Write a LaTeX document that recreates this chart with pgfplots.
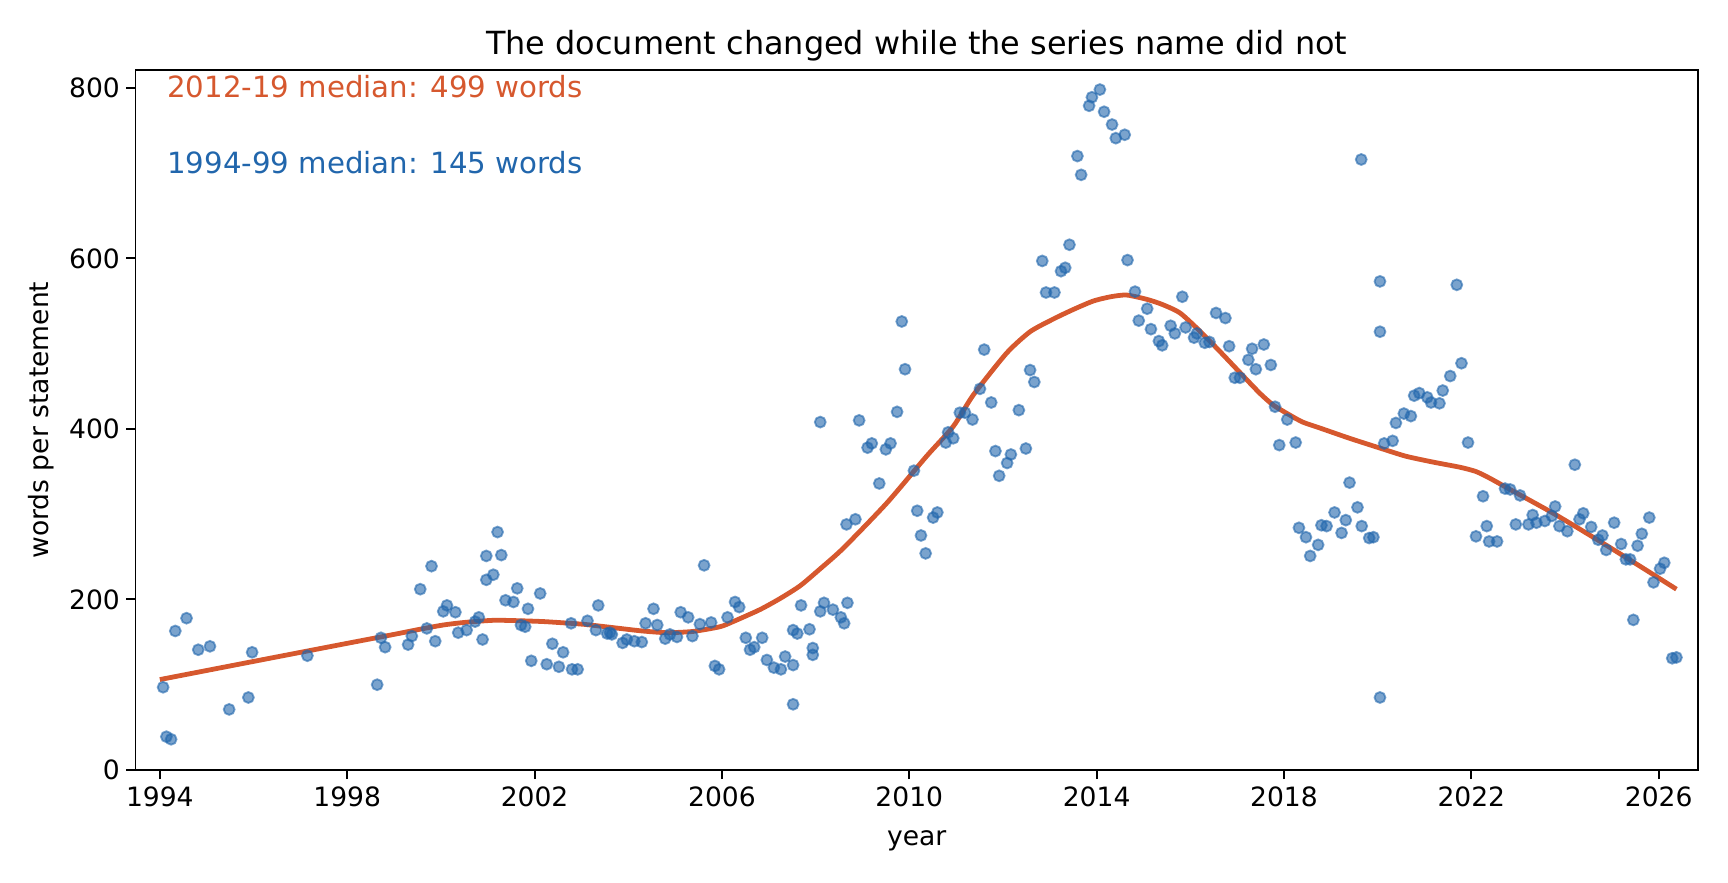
\documentclass[border=0pt]{standalone}
\usepackage{fontspec}
\setmainfont{DejaVu Sans}
\usepackage{pgfplots}
\pgfplotsset{compat=1.18}
\definecolor{ptblue}{RGB}{33,102,172}
\definecolor{lineor}{RGB}{214,88,46}
\begin{document}
\begin{tikzpicture}
\path[use as bounding box] (-51pt,-42.5pt) rectangle (599.4pt,289.8pt);
\begin{axis}[
  at={(0,0)}, anchor=south west,
  scale only axis, width=588.1pt, height=263.3pt,
  xmin=1993.48, xmax=2026.84, ymin=0, ymax=820.5,
  xtick={1994,1998,...,2026}, ytick={0,200,...,800},
  /pgf/number format/assume math mode=true,
  x tick label style={/pgf/number format/1000 sep={}},
  tick align=outside, tick pos=left,
  major tick length=3.5pt,
  axis line style={line width=0.75pt},
  major tick style={line width=0.75pt, black},
  xticklabel style={anchor=base, inner sep=0pt, yshift=-10.1pt, font=\fontsize{10}{12}\selectfont},
  yticklabel style={anchor=east, inner sep=0pt, xshift=-2.2pt, font=\fontsize{10}{12}\selectfont},
  clip=true,
]
\addplot[lineor, line width=1.8pt, no markers, smooth, tension=0.4] coordinates {
(1994.0,106) (1996.0,127.3) (1998.0,148.5) (1999.0,159) (1999.55,165) (2000.05,170)
(2000.5,173) (2001.12,175.5) (2001.69,175) (2002.2,174) (2002.76,172) (2003.11,170.5)
(2003.82,166) (2004.3,163) (2004.82,161) (2005.39,162.5) (2005.96,168) (2006.24,174)
(2006.81,188) (2007.24,201) (2007.67,216) (2008.1,236) (2008.59,260) (2009.52,313)
(2010.37,368) (2010.94,403) (2011.37,440) (2012.08,489) (2012.58,514) (2013.08,529)
(2013.5,540) (2013.93,550) (2014.3,555) (2014.64,557) (2015.07,552) (2015.4,546)
(2015.78,536) (2016.2,515) (2016.63,491) (2017.2,458) (2017.5,441) (2017.77,428)
(2018.1,417) (2018.4,408) (2018.77,401) (2019.4,389) (2020.05,377.5) (2020.6,368)
(2021.19,361) (2021.76,355) (2022.1,350) (2022.4,342) (2022.76,331) (2023.75,301)
(2024.75,268) (2025.6,239) (2026.38,212)
};
\addplot[only marks, mark=*, mark size=2.05pt,
  mark options={draw=ptblue, fill=ptblue, fill opacity=0.6, draw opacity=0.6, line width=0.7pt}]
  coordinates {
(1994.07,97) (1994.14,39) (1994.24,36) (1994.33,163) (1994.57,178) (1994.82,141)
(1995.07,145) (1995.48,71) (1995.89,85) (1995.97,138) (1997.15,134) (1998.64,100)
(1998.72,155) (1998.81,144) (1999.30,147) (1999.38,157) (1999.56,212) (1999.70,166)
(1999.80,239) (1999.88,151) (2000.05,186) (2000.13,193) (2000.31,185) (2000.37,161)
(2000.55,164) (2000.73,174) (2000.81,179) (2000.89,153) (2000.97,223) (2000.97,251)
(2001.12,229) (2001.21,279) (2001.29,252) (2001.38,199) (2001.55,197) (2001.63,213)
(2001.71,170) (2001.80,168) (2001.86,189) (2001.93,128) (2002.12,207) (2002.26,124)
(2002.38,148) (2002.52,121) (2002.61,138) (2002.78,172) (2002.80,118) (2002.92,118)
(2003.13,175) (2003.31,164) (2003.36,193) (2003.55,160) (2003.61,161) (2003.65,159)
(2003.88,149) (2003.97,153) (2004.13,151) (2004.29,150) (2004.37,172) (2004.54,189)
(2004.62,170) (2004.79,154) (2004.89,159) (2005.04,156) (2005.12,185) (2005.28,179)
(2005.37,157) (2005.53,171) (2005.62,240) (2005.77,173) (2005.85,122) (2005.94,118)
(2006.12,179) (2006.28,197) (2006.37,191) (2006.51,155) (2006.60,141) (2006.69,144)
(2006.86,155) (2006.96,129) (2007.11,120) (2007.26,118) (2007.35,133) (2007.52,123)
(2007.52,77) (2007.52,164) (2007.61,160) (2007.69,193) (2007.87,165) (2007.94,143)
(2007.94,135) (2008.10,408) (2008.10,186) (2008.18,196) (2008.37,188) (2008.54,179)
(2008.61,172) (2008.68,196) (2008.66,288) (2008.85,294) (2008.93,410) (2009.11,378)
(2009.20,383) (2009.36,336) (2009.50,376) (2009.60,383) (2009.74,420) (2009.84,526)
(2009.91,470) (2010.10,351) (2010.17,304) (2010.25,275) (2010.35,254) (2010.51,296)
(2010.60,302) (2010.78,384) (2010.83,396) (2010.94,389) (2011.08,419) (2011.19,419)
(2011.35,411) (2011.51,447) (2011.60,493) (2011.75,431) (2011.84,374) (2011.92,345)
(2012.09,360) (2012.17,370) (2012.34,422) (2012.49,377) (2012.58,469) (2012.67,455)
(2012.84,597) (2012.92,560) (2013.10,560) (2013.24,585) (2013.33,589) (2013.42,616)
(2013.59,720) (2013.67,698) (2013.84,779) (2013.90,789) (2014.07,798) (2014.16,772)
(2014.33,757) (2014.41,741) (2014.60,745) (2014.66,598) (2014.82,561) (2014.90,527)
(2015.08,541) (2015.16,517) (2015.33,503) (2015.40,498) (2015.58,521) (2015.67,512)
(2015.83,555) (2015.90,519) (2016.08,507) (2016.14,512) (2016.31,501) (2016.41,502)
(2016.55,536) (2016.75,530) (2016.83,497) (2016.95,460) (2017.06,460) (2017.24,481)
(2017.32,494) (2017.40,470) (2017.57,499) (2017.72,475) (2017.81,426) (2017.90,381)
(2018.07,411) (2018.25,384) (2018.32,284) (2018.47,273) (2018.56,251) (2018.73,264)
(2018.80,287) (2018.91,286) (2019.08,302) (2019.23,278) (2019.32,293) (2019.40,337)
(2019.57,308) (2019.65,716) (2019.66,286) (2019.82,272) (2019.91,273) (2020.05,573)
(2020.05,514) (2020.05,85) (2020.14,383) (2020.32,386) (2020.39,407) (2020.56,418)
(2020.71,415) (2020.78,439) (2020.89,442) (2021.06,437) (2021.14,431) (2021.32,430)
(2021.39,445) (2021.55,462) (2021.69,569) (2021.79,477) (2021.93,384) (2022.10,274)
(2022.25,321) (2022.33,286) (2022.38,268) (2022.55,268) (2022.72,330) (2022.83,329)
(2022.95,288) (2023.04,322) (2023.22,288) (2023.31,299) (2023.39,290) (2023.57,292)
(2023.72,298) (2023.79,309) (2023.88,286) (2024.05,280) (2024.21,358) (2024.31,294)
(2024.39,301) (2024.56,285) (2024.71,270) (2024.80,275) (2024.88,258) (2025.05,290)
(2025.20,265) (2025.30,247) (2025.39,247) (2025.46,176) (2025.55,263) (2025.64,277)
(2025.80,296) (2025.89,220) (2026.03,236) (2026.12,243) (2026.29,131) (2026.38,132)
};
\node[anchor=base west, inner sep=0pt, text=lineor, font=\fontsize{11}{13}\selectfont, yshift=-10.2pt] at (rel axis cs:0.02,1) {2012-19 median: 499 words};
\node[anchor=base west, inner sep=0pt, text=ptblue, font=\fontsize{11}{13}\selectfont, yshift=-38.7pt] at (rel axis cs:0.02,1) {1994-99 median: 145 words};
\end{axis}
\node[anchor=base, inner sep=0pt, font=\fontsize{12}{14}\selectfont] at (294.05pt,269.1pt) {The document changed while the series name did not};
\node[anchor=base, inner sep=0pt, font=\fontsize{10}{12}\selectfont] at (294.05pt,-28.6pt) {year};
\node[anchor=center, inner sep=0pt, rotate=90, font=\fontsize{10}{12}\selectfont] at (-35.6pt,131.65pt) {words per statement};
\end{tikzpicture}
\end{document}
